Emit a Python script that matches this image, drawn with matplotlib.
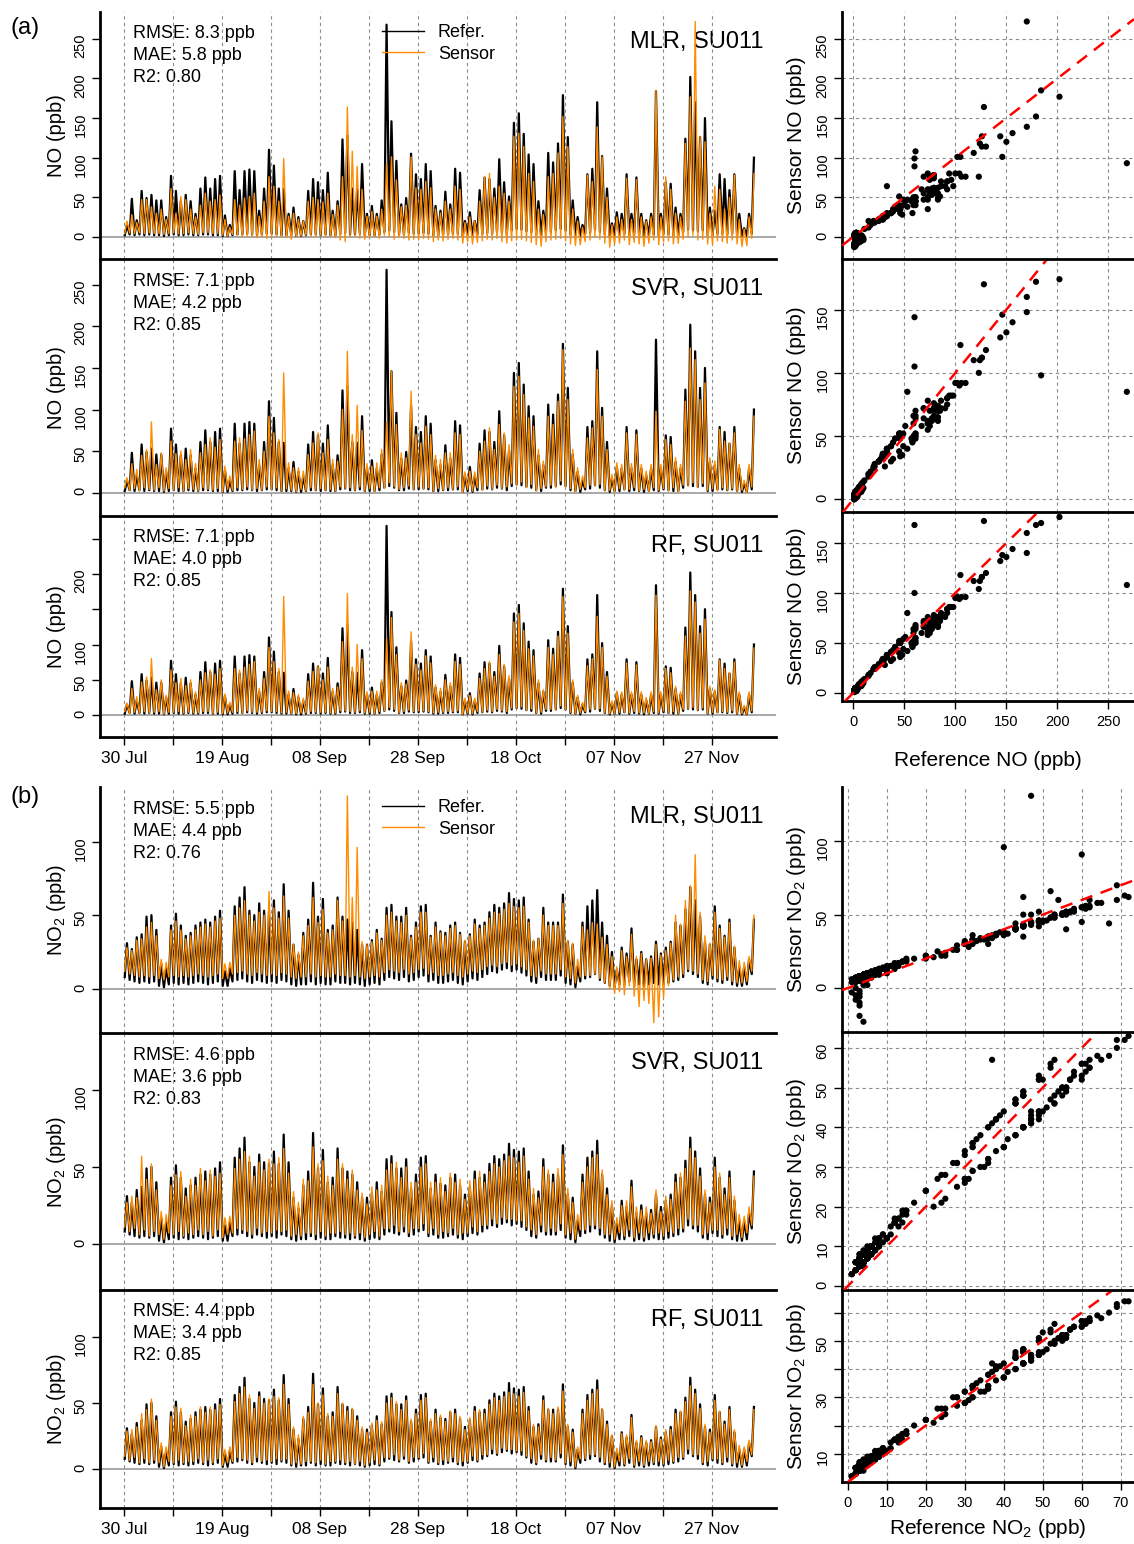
import numpy as np
import matplotlib
matplotlib.use("Agg")
import matplotlib.pyplot as plt

plt.rcParams["font.family"] = ["Liberation Sans", "DejaVu Sans"]
plt.rcParams["mathtext.fontset"] = "custom"
plt.rcParams["mathtext.rm"] = "Liberation Sans"

# ---- data: one daily peak and one nightly low per day, 30 Jul .. 05 Dec
ref_no_peak = [15, 48, 21, 58, 49, 53, 46, 46, 25, 77,
               58, 45, 53, 45, 29, 61, 75, 61, 73, 77,
               27, 15, 83, 59, 83, 85, 83, 33, 61, 110,
               90, 61, 60, 29, 37, 25, 20, 58, 73, 69,
               59, 81, 33, 45, 123, 128, 61, 60, 92, 29,
               39, 29, 46, 268, 146, 96, 41, 49, 105, 79,
               73, 92, 83, 39, 33, 57, 41, 86, 81, 20,
               31, 20, 59, 75, 73, 61, 98, 69, 51, 144,
               156, 130, 104, 92, 45, 33, 106, 94, 118, 179,
               126, 46, 25, 15, 79, 86, 170, 102, 61, 17,
               31, 29, 79, 29, 75, 29, 21, 29, 184, 29,
               69, 67, 37, 29, 124, 202, 170, 126, 150, 37,
               33, 79, 73, 59, 79, 29, 11, 29, 100]
ref_no_low = [2, 3, 2, 3, 2, 3, 2, 2, 1, 2,
              3, 2, 2, 3, 2, 2, 3, 3, 2, 2,
              1, 1, 2, 3, 3, 4, 3, 2, 3, 4,
              4, 3, 2, 2, 2, 1, 1, 2, 3, 3,
              2, 3, 2, 2, 4, 5, 3, 3, 4, 2,
              2, 2, 3, 6, 8, 6, 3, 3, 5, 4,
              4, 5, 4, 2, 2, 3, 3, 4, 4, 1,
              2, 1, 3, 4, 5, 4, 6, 5, 3, 8,
              10, 9, 7, 6, 3, 2, 6, 6, 8, 10,
              8, 3, 2, 1, 4, 5, 9, 6, 3, 1,
              2, 2, 4, 2, 3, 2, 1, 2, 3, 2,
              4, 3, 2, 2, 6, 9, 8, 7, 8, 2,
              2, 4, 4, 3, 4, 2, 1, 1, 4]

mlr_no_peak = [20, 28, 18, 47, 47, 38, 30, 35, 22, 61,
               30, 51, 47, 35, 25, 40, 55, 45, 47, 53,
               22, 12, 47, 40, 49, 51, 55, 26, 45, 76,
               64, 45, 99, 26, 30, 22, 20, 45, 50, 47,
               44, 55, 28, 40, 76, 164, 108, 89, 60, 26,
               32, 26, 35, 93, 101, 72, 38, 40, 101, 62,
               60, 70, 62, 35, 30, 45, 35, 64, 60, 18,
               25, 20, 45, 76, 80, 50, 64, 55, 45, 127,
               131, 114, 80, 70, 35, 28, 76, 80, 106, 152,
               114, 35, 20, 12, 78, 70, 139, 101, 50, 15,
               25, 22, 74, 22, 72, 25, 20, 25, 185, 25,
               76, 60, 30, 25, 118, 177, 272, 127, 120, 30,
               64, 60, 35, 50, 78, 22, 10, 25, 80]
mlr_no_low = [4, 5, 4, 5, 4, 5, 4, 4, 3, 4,
              5, 4, 4, 5, 4, 3, 5, 5, 4, 4,
              2, 1, 3, 2, 0, 1, 0, -1, 0, -2,
              0, 1, 0, -1, -3, 0, 1, 2, 1, 0,
              2, 0, 1, -1, -4, -6, 0, 1, -2, -3,
              -1, 0, -2, 2, 0, -3, -1, -2, -4, -3,
              -4, -2, -3, -6, -4, -5, -3, -2, -4, -8,
              -6, -9, -7, -5, -3, -4, -2, -6, -8, -5,
              -4, -3, -5, -7, -10, -12, -6, -4, -3, -2,
              -5, -9, -11, -10, -6, -4, 0, -3, -8, -13,
              -9, -8, -4, -10, -7, -9, -12, -8, -4, -10,
              -6, -5, -9, -8, -3, 0, 2, -4, -3, -9,
              -10, -5, -6, -8, -4, -9, -12, -11, -2]

svr_no_peak = [18, 35, 28, 45, 52, 85, 34, 48, 30, 62,
               47, 50, 40, 52, 35, 48, 58, 66, 55, 64,
               32, 20, 62, 66, 65, 70, 74, 40, 50, 92,
               72, 64, 144, 36, 30, 30, 26, 46, 60, 72,
               48, 64, 40, 38, 100, 170, 70, 105, 75, 35,
               32, 36, 52, 85, 146, 82, 48, 42, 122, 70,
               60, 80, 70, 45, 40, 48, 48, 72, 70, 25,
               26, 25, 50, 62, 78, 52, 82, 72, 58, 128,
               140, 118, 90, 80, 52, 38, 92, 82, 110, 172,
               112, 52, 30, 20, 66, 78, 148, 92, 52, 22,
               36, 34, 72, 35, 70, 34, 26, 34, 98, 34,
               64, 58, 42, 34, 110, 174, 160, 112, 132, 42,
               38, 76, 62, 60, 72, 34, 15, 34, 92]
svr_no_low = [6, 3, 5, 2, 6, 4, 3, 6, 2, 5,
              3, 6, 2, 5, 4, 2, 6, 4, 3, 5,
              1, 4, 3, 6, 4, 7, 3, 5, 3, 7,
              4, 6, 2, 5, 3, 1, 4, 2, 6, 3,
              5, 3, 4, 2, 7, 5, 6, 3, 7, 2,
              5, 1, 6, 5, 12, 7, 4, 6, 8, 4,
              7, 5, 6, 2, 5, 3, 6, 4, 7, 0,
              4, 2, 6, 3, 8, 4, 9, 5, 7, 11,
              9, 13, 6, 10, 2, 5, 7, 9, 6, 14,
              7, 5, 1, 4, 6, 9, 8, 10, 2, 3,
              1, 5, 3, 4, 6, 2, 4, 1, 6, 3,
              5, 2, 6, 1, 9, 8, 12, 6, 11, 3,
              5, 2, 6, 3, 5, 1, 3, 0, 7]

rf_no_peak = [17, 38, 26, 47, 54, 80, 36, 50, 28, 64,
              46, 52, 42, 50, 33, 50, 60, 64, 58, 66,
              30, 18, 66, 64, 68, 72, 76, 38, 52, 96,
              76, 66, 168, 34, 32, 29, 24, 48, 62, 70,
              50, 68, 38, 40, 104, 172, 68, 100, 80, 33,
              34, 34, 50, 108, 138, 86, 46, 44, 118, 72,
              64, 84, 74, 43, 38, 50, 46, 76, 72, 24,
              28, 24, 52, 66, 76, 55, 86, 72, 56, 132,
              144, 120, 94, 84, 50, 36, 96, 86, 112, 168,
              116, 50, 28, 18, 70, 80, 140, 96, 55, 20,
              34, 33, 74, 33, 71, 33, 25, 33, 170, 33,
              66, 60, 41, 33, 112, 176, 160, 116, 136, 41,
              36, 78, 66, 60, 75, 33, 14, 33, 95]
rf_no_low = [5, 2, 4, 3, 5, 3, 4, 5, 1, 4,
             4, 5, 3, 4, 3, 3, 5, 5, 2, 4,
             2, 3, 4, 5, 3, 6, 4, 4, 4, 6,
             5, 5, 3, 4, 2, 2, 3, 3, 5, 4,
             4, 4, 3, 3, 6, 6, 5, 4, 6, 3,
             4, 2, 5, 6, 11, 8, 3, 5, 7, 5,
             6, 6, 5, 3, 4, 4, 5, 5, 6, 1,
             3, 2, 5, 4, 7, 5, 8, 6, 5, 10,
             10, 12, 7, 9, 3, 4, 8, 8, 7, 13,
             8, 4, 2, 3, 5, 8, 9, 9, 3, 2,
             2, 4, 4, 3, 5, 3, 3, 2, 5, 3,
             6, 3, 5, 2, 8, 9, 11, 7, 10, 2,
             4, 3, 5, 4, 6, 2, 2, 1, 6]

ref_no2_peak = [31, 27, 35, 37, 49, 50, 40, 17, 14, 43,
                51, 43, 36, 38, 43, 45, 47, 45, 49, 53,
                12, 14, 56, 62, 69, 53, 50, 58, 53, 52,
                60, 52, 71, 53, 30, 23, 38, 47, 72, 49,
                61, 40, 43, 62, 49, 47, 45, 40, 30, 30,
                33, 40, 34, 55, 57, 49, 49, 55, 36, 45,
                56, 57, 36, 45, 39, 38, 43, 45, 38, 32,
                37, 47, 43, 45, 52, 57, 55, 58, 65, 61,
                60, 62, 47, 32, 34, 55, 45, 45, 45, 64,
                32, 30, 15, 45, 56, 60, 67, 45, 36, 25,
                13, 28, 24, 41, 20, 25, 20, 22, 32, 24,
                28, 32, 45, 43, 54, 69, 60, 49, 32, 30,
                56, 43, 36, 47, 28, 15, 15, 20, 47]
ref_no2_low = [8, 6, 5, 4, 5, 4, 5, 2, 1, 3,
               4, 3, 4, 3, 4, 5, 4, 3, 4, 5,
               2, 2, 5, 6, 7, 5, 4, 6, 5, 4,
               5, 4, 6, 5, 3, 2, 3, 3, 5, 3,
               4, 3, 3, 5, 4, 4, 3, 4, 3, 2,
               3, 4, 3, 6, 8, 7, 6, 8, 5, 6,
               8, 9, 5, 6, 4, 4, 5, 6, 4, 3,
               5, 7, 6, 8, 10, 12, 11, 13, 14, 12,
               13, 11, 9, 5, 4, 8, 6, 6, 6, 9,
               4, 3, 1, 5, 7, 8, 10, 6, 4, 2,
               1, 3, 3, 5, 2, 3, 2, 3, 4, 3,
               3, 4, 5, 6, 8, 12, 10, 8, 4, 3,
               7, 5, 4, 6, 3, 2, 2, 3, 10]

mlr_no2_peak = [28, 26, 33, 34, 42, 45, 36, 20, 18, 40,
                46, 40, 34, 36, 40, 42, 44, 42, 46, 48,
                17, 18, 50, 55, 60, 50, 46, 52, 50, 66,
                55, 48, 63, 48, 30, 25, 36, 43, 62, 45,
                54, 38, 40, 60, 46, 131, 62, 96, 32, 30,
                32, 38, 33, 50, 52, 46, 45, 50, 35, 42,
                52, 52, 35, 42, 38, 36, 41, 43, 37, 33,
                36, 44, 41, 43, 48, 52, 51, 54, 58, 56,
                55, 56, 45, 33, 34, 50, 43, 43, 43, 58,
                33, 31, 20, 42, 40, 45, 44, 35, 30, 22,
                15, 26, 22, 37, 22, 24, 20, 21, 30, 23,
                26, 31, 50, 44, 60, 70, 91, 52, 36, 31,
                52, 41, 35, 45, 29, 19, 18, 22, 50]
mlr_no2_low = [12, 10, 9, 8, 9, 8, 9, 7, 6, 8,
               9, 8, 9, 8, 9, 10, 9, 8, 9, 10,
               7, 7, 10, 11, 12, 10, 9, 11, 10, 9,
               10, 9, 11, 10, 8, 7, 8, 8, 10, 8,
               9, 8, 8, 10, 9, 9, 8, 9, 8, 7,
               8, 9, 8, 11, 13, 12, 11, 13, 10, 11,
               13, 14, 10, 11, 9, 9, 10, 11, 9, 8,
               10, 12, 11, 13, 15, 16, 15, 17, 18, 16,
               17, 15, 13, 9, 8, 12, 10, 10, 10, 13,
               8, 7, 4, 8, 9, 9, 10, 7, 4, 0,
               -3, -2, -4, 2, -5, -12, -8, -10, -23, -19,
               -6, 2, 6, 8, 10, 13, 12, 10, 6, 5,
               9, 7, 6, 8, 5, 4, 4, 5, 12]

svr_no2_peak = [27, 31, 30, 57, 42, 52, 35, 21, 19, 38,
                45, 47, 31, 42, 38, 49, 41, 48, 44, 46,
                17, 18, 49, 55, 60, 57, 44, 53, 48, 55,
                52, 56, 62, 46, 34, 27, 42, 41, 63, 52,
                54, 44, 38, 55, 52, 42, 48, 35, 33, 26,
                37, 35, 38, 48, 52, 53, 43, 50, 40, 40,
                50, 52, 40, 40, 43, 34, 46, 40, 42, 29,
                41, 42, 47, 40, 47, 52, 50, 54, 57, 56,
                53, 57, 42, 36, 30, 50, 48, 40, 49, 58,
                36, 27, 19, 40, 50, 56, 58, 48, 32, 28,
                17, 25, 28, 37, 24, 22, 24, 20, 35, 21,
                31, 29, 40, 46, 49, 62, 56, 44, 35, 27,
                50, 46, 32, 43, 31, 19, 18, 24, 44]
svr_no2_low = [11, 8, 10, 6, 9, 5, 8, 6, 3, 7,
               6, 8, 5, 7, 6, 9, 6, 8, 5, 9,
               4, 6, 7, 10, 9, 8, 6, 10, 7, 8,
               7, 9, 8, 9, 5, 6, 5, 7, 7, 6,
               8, 5, 7, 7, 8, 6, 7, 5, 7, 4,
               6, 8, 5, 10, 10, 12, 8, 11, 7, 10,
               10, 13, 7, 10, 6, 8, 7, 10, 6, 7,
               7, 11, 8, 12, 12, 16, 13, 17, 16, 16,
               15, 15, 11, 9, 6, 12, 8, 10, 8, 13,
               6, 7, 3, 9, 9, 12, 12, 10, 6, 6,
               3, 7, 5, 9, 4, 7, 4, 7, 6, 7,
               5, 8, 7, 10, 10, 16, 12, 12, 6, 7,
               9, 9, 6, 10, 5, 6, 4, 7, 12]

rf_no2_peak = [29, 30, 32, 42, 45, 53, 37, 20, 17, 40,
               47, 46, 33, 41, 40, 47, 43, 47, 45, 49,
               15, 17, 51, 57, 62, 56, 46, 55, 50, 53,
               55, 54, 64, 49, 32, 26, 40, 43, 64, 50,
               56, 42, 40, 57, 50, 44, 46, 37, 32, 28,
               35, 37, 36, 50, 54, 51, 45, 52, 38, 42,
               52, 54, 38, 42, 41, 36, 44, 42, 40, 30,
               39, 44, 45, 42, 49, 54, 52, 55, 58, 57,
               55, 58, 44, 34, 32, 52, 46, 42, 47, 59,
               34, 28, 17, 42, 52, 57, 60, 46, 34, 26,
               16, 27, 26, 39, 22, 24, 22, 21, 33, 23,
               30, 30, 42, 44, 51, 63, 57, 46, 34, 28,
               52, 44, 34, 45, 30, 18, 17, 22, 45]
rf_no2_low = [10, 7, 9, 5, 8, 5, 7, 5, 2, 6,
              5, 7, 5, 6, 6, 8, 5, 7, 5, 8,
              3, 5, 6, 9, 8, 7, 5, 9, 6, 7,
              6, 8, 7, 8, 4, 5, 4, 6, 6, 5,
              7, 4, 6, 6, 7, 5, 6, 4, 6, 3,
              5, 7, 4, 9, 9, 11, 7, 10, 6, 9,
              9, 12, 6, 9, 5, 7, 6, 9, 5, 6,
              6, 10, 7, 11, 11, 15, 12, 16, 15, 15,
              14, 14, 10, 8, 5, 11, 7, 9, 7, 12,
              5, 6, 2, 8, 8, 11, 11, 9, 5, 5,
              2, 6, 4, 8, 3, 6, 3, 6, 5, 6,
              4, 7, 6, 9, 9, 15, 11, 11, 5, 6,
              8, 8, 5, 9, 4, 5, 3, 6, 11]

models = ["MLR", "SVR", "RF"]
rmse_no = [8.3, 7.1, 7.1]
mae_no = [5.8, 4.2, 4.0]
r2_no = [0.80, 0.85, 0.85]
rmse_no2 = [5.5, 4.6, 4.4]
mae_no2 = [4.4, 3.6, 3.4]
r2_no2 = [0.76, 0.83, 0.85]
date_labels = ["30 Jul", "19 Aug", "08 Sep", "28 Sep", "18 Oct", "07 Nov", "27 Nov"]

ORANGE = "#FF8C00"
GRID = "#8c8c8c"
W, H = 1134, 1544

fig = plt.figure(figsize=(W / 100, H / 100), dpi=100)


def px_axes(l, t, r, b, z):
    ax = fig.add_axes([l / W, 1 - b / H, (r - l) / W, (b - t) / H])
    ax.patch.set_alpha(0)
    ax.set_zorder(z)
    return ax


def px_text(x, y, s, **kw):
    fig.text(x / W, 1 - y / H, s, **kw)


def interleave(low, peak):
    out = np.empty(2 * len(low))
    out[0::2] = low
    out[1::2] = peak
    return out


days = np.arange(len(ref_no_peak))
t = interleave(days + 0.15, days + 0.6)


def base_style(ax):
    ax.spines["top"].set_visible(False)
    ax.spines["right"].set_visible(False)
    ax.spines["left"].set_linewidth(2)
    ax.spines["bottom"].set_linewidth(2)
    ax.tick_params(axis="y", direction="out", length=6, width=1,
                   labelsize=10.5, labelrotation=90, pad=3)


def ts_panel(rows, i, ref, sens, ylim, yticks, ylabels, ylab, stats, legend):
    top, bot = rows[i]
    ax = px_axes(100, top, 776, bot, 5 - i)
    base_style(ax)
    ax.set_xlim(-4.9, 133.1)
    ax.set_ylim(*ylim)
    for d in range(0, 121, 10):
        ax.axvline(d, color=GRID, ls=(0, (3, 3)), lw=0.8, zorder=0)
    ax.axhline(0, color="#9a9a9a", lw=1.2, zorder=1)
    ax.plot(t, ref, color="black", lw=1.6, zorder=2, label="Refer.")
    ax.plot(t, sens, color=ORANGE, lw=1.0, zorder=3, label="Sensor")
    ax.set_yticks(yticks)
    ax.set_yticklabels(ylabels)
    if i == 2:
        ax.set_xticks(range(0, 121, 10))
        ax.set_xticklabels([date_labels[k // 2] if k % 2 == 0 else "" for k in range(13)])
        ax.tick_params(axis="x", direction="out", length=6, width=1, labelsize=12.5, pad=4)
    else:
        ax.set_xticks([])
    for k, s in enumerate(stats):
        px_text(133, top + 22 + 22 * k, s, fontsize=13, ha="left", va="center")
    px_text(763, top + 30, "%s, SU011" % models[i], fontsize=17, ha="right", va="center")
    px_text(57, (top + bot) / 2, ylab, fontsize=14.5, rotation=90, ha="center", va="center")
    if legend:
        leg = ax.legend(loc="upper left", bbox_to_anchor=((382 - 100) / 676, 1 - 12 / (bot - top)),
                        frameon=False, fontsize=13, handlelength=2.3, handletextpad=0.8,
                        labelspacing=0.25, borderpad=0, borderaxespad=0)
        for ln in leg.get_lines():
            ln.set_linewidth(1.0)
    return ax


def sc_panel(rows, i, ref, sens, xlim, xticks, ylim, yticks, ylabels, ylab, xlab, xlab_y):
    top, bot = rows[i]
    ax = px_axes(842, top, 1134, bot, 5 - i)
    base_style(ax)
    ax.set_xlim(*xlim)
    ax.set_ylim(*ylim)
    for v in xticks:
        ax.axvline(v, color=GRID, ls=(0, (3, 3)), lw=0.8, zorder=0)
    for v in yticks:
        ax.axhline(v, color=GRID, ls=(0, (3, 3)), lw=0.8, zorder=0)
    ax.scatter(ref, sens, s=20, color="black", edgecolors="none", zorder=2)
    ax.axline((0, 0), slope=1, color="red", lw=1.8, ls=(0, (5, 3.5)), zorder=3)
    ax.set_yticks(yticks)
    ax.set_yticklabels(ylabels)
    if xlab:
        ax.set_xticks(xticks)
        ax.tick_params(axis="x", direction="out", length=6, width=1, labelsize=10.5, pad=4)
        px_text(988, xlab_y, xlab, fontsize=15, ha="center", va="center")
    else:
        ax.set_xticks([])
    px_text(797, (top + bot) / 2, ylab, fontsize=15, rotation=90, ha="center", va="center")
    return ax


# ---- (a) NO
no_ref = interleave(ref_no_low, ref_no_peak)
no_sens = [interleave(mlr_no_low, mlr_no_peak),
           interleave(svr_no_low, svr_no_peak),
           interleave(rf_no_low, rf_no_peak)]
ts_rows_a = [(12, 259), (259, 516), (516, 737)]
sc_rows_a = [(12, 259), (259, 512), (512, 701)]
ts_ylim_a = [(-28, 284), (-28, 281), (-31, 282)]
sc_ylim_a = [(-28, 284), (-10, 190), (-8, 181)]
sc_yt_a = [[0, 50, 100, 150, 200, 250], [0, 50, 100, 150], [0, 50, 100, 150]]

for i in range(3):
    if i == 2:
        ylabs = ["0", "50", "100", "", "200", ""]
    else:
        ylabs = ["0", "50", "100", "150", "200", "250"]
    stats = ["RMSE: %.1f ppb" % rmse_no[i], "MAE: %.1f ppb" % mae_no[i], "R2: %.2f" % r2_no[i]]
    ts_panel(ts_rows_a, i, no_ref, no_sens[i], ts_ylim_a[i], [0, 50, 100, 150, 200, 250],
             ylabs, "NO (ppb)", stats, i == 0)
    sc_panel(sc_rows_a, i, no_ref, no_sens[i], (-11, 275), [0, 50, 100, 150, 200, 250],
             sc_ylim_a[i], sc_yt_a[i], [str(v) for v in sc_yt_a[i]], "Sensor NO (ppb)",
             "Reference NO (ppb)" if i == 2 else None, 760)

# ---- (b) NO2
no2_ref = interleave(ref_no2_low, ref_no2_peak)
no2_sens = [interleave(mlr_no2_low, mlr_no2_peak),
            interleave(svr_no2_low, svr_no2_peak),
            interleave(rf_no2_low, rf_no2_peak)]
ts_rows_b = [(787, 1033), (1033, 1290), (1290, 1508)]
sc_rows_b = [(787, 1032), (1032, 1290), (1290, 1482)]
ts_ylim_b = [(-30, 137), (-30, 137), (-29, 135)]
sc_ylim_b = [(-30, 137), (-1, 64), (0, 68)]
sc_yt_b = [[0, 50, 100], [0, 10, 20, 30, 40, 50, 60], [10, 20, 30, 40, 50, 60]]
sc_yl_b = [["0", "50", "100"], ["0", "10", "20", "30", "40", "50", "60"],
           ["10", "", "30", "", "50", ""]]
no2 = "NO$_\\mathregular{2}$"

for i in range(3):
    stats = ["RMSE: %.1f ppb" % rmse_no2[i], "MAE: %.1f ppb" % mae_no2[i], "R2: %.2f" % r2_no2[i]]
    ts_panel(ts_rows_b, i, no2_ref, no2_sens[i], ts_ylim_b[i], [0, 50, 100],
             ["0", "50", "100"], no2 + " (ppb)", stats, i == 0)
    sc_panel(sc_rows_b, i, no2_ref, no2_sens[i], (-1.5, 73.4), [0, 10, 20, 30, 40, 50, 60, 70],
             sc_ylim_b[i], sc_yt_b[i], sc_yl_b[i], "Sensor " + no2 + " (ppb)",
             "Reference " + no2 + " (ppb)" if i == 2 else None, 1529)

px_text(25, 28, "(a)", fontsize=17, ha="center", va="center")
px_text(25, 797, "(b)", fontsize=17, ha="center", va="center")

fig.savefig("out.png", dpi=100)
